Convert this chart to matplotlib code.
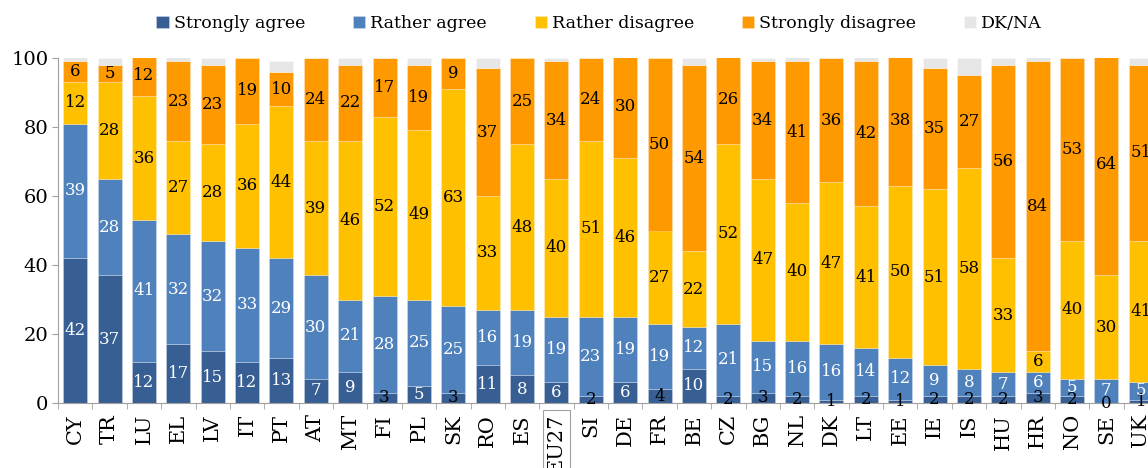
import matplotlib
matplotlib.use("Agg")
import matplotlib.pyplot as plt
import numpy as np

# data (percent)
countries = ["CY", "TR", "LU", "EL", "LV", "IT", "PT", "AT", "MT", "FI", "PL", "SK",
             "RO", "ES", "EU27", "SI", "DE", "FR", "BE", "CZ", "BG", "NL", "DK", "LT",
             "EE", "IE", "IS", "HU", "HR", "NO", "SE", "UK"]
strongly_agree = [42, 37, 12, 17, 15, 12, 13, 7, 9, 3, 5, 3,
                  11, 8, 6, 2, 6, 4, 10, 2, 3, 2, 1, 2,
                  1, 2, 2, 2, 3, 2, 0, 1]
rather_agree = [39, 28, 41, 32, 32, 33, 29, 30, 21, 28, 25, 25,
                16, 19, 19, 23, 19, 19, 12, 21, 15, 16, 16, 14,
                12, 9, 8, 7, 6, 5, 7, 5]
rather_disagree = [12, 28, 36, 27, 28, 36, 44, 39, 46, 52, 49, 63,
                   33, 48, 40, 51, 46, 27, 22, 52, 47, 40, 47, 41,
                   50, 51, 58, 33, 6, 40, 30, 41]
strongly_disagree = [6, 5, 12, 23, 23, 19, 10, 24, 22, 17, 19, 9,
                     37, 25, 34, 24, 30, 50, 54, 26, 34, 41, 36, 42,
                     38, 35, 27, 56, 84, 53, 64, 51]
dk_na = [2, 2, 0, 2, 2, 0, 3, 1, 2, 1, 2, 0,
         3, 0, 1, 1, 0, 0, 2, 0, 1, 2, 1, 2,
         0, 3, 5, 2, 2, 1, 0, 2]

series = [
    ("Strongly agree", strongly_agree, "#375F93", "white"),
    ("Rather agree", rather_agree, "#4F81BD", "white"),
    ("Rather disagree", rather_disagree, "#FFC000", "black"),
    ("Strongly disagree", strongly_disagree, "#FF9900", "black"),
    ("DK/NA", dk_na, "#E6E6E6", None),
]

plt.rcParams["font.family"] = ["DejaVu Serif"]

fig = plt.figure(figsize=(11.48, 4.68), dpi=100)
ax = fig.add_axes([58 / 1148, 65 / 468, 1100 / 1148, 345 / 468])

x = np.arange(len(countries))
bottom = np.zeros(len(countries))
for name, vals, color, txtcol in series:
    vals = np.array(vals, dtype=float)
    ax.bar(x, vals, bottom=bottom, width=0.7, color=color, label=name,
           edgecolor=(1, 1, 1, 0.35), linewidth=0.5)
    if txtcol is not None:
        for xi, b, v in zip(x, bottom, vals):
            c = txtcol
            # tiny segments: label spills over the axis, drawn dark
            if name == "Strongly agree" and v < 5:
                c = "black"
            ax.text(xi, b + v / 2, f"{int(v)}", ha="center", va="center",
                    fontsize=12, color=c, clip_on=False)
    bottom += vals

ax.set_xlim(-0.5, len(countries) - 0.5)
ax.set_ylim(0, 100)
ax.set_yticks([0, 20, 40, 60, 80, 100])
ax.tick_params(axis="y", labelsize=14, length=4, color="#A0A0A0", pad=3)

ax.set_xticks(x)
ax.set_xticklabels(countries, rotation=90, fontsize=15)
ax.set_xticks(np.arange(len(countries) + 1) - 0.5, minor=True)
ax.tick_params(axis="x", which="major", length=0, pad=8)
ax.tick_params(axis="x", which="minor", length=4, color="#A0A0A0")
for lbl in ax.get_xticklabels():
    if lbl.get_text() == "EU27":
        lbl.set_bbox(dict(facecolor="white", edgecolor="#A0A0A0", linewidth=0.8, pad=3))

for s in ["top", "right"]:
    ax.spines[s].set_visible(False)
for s in ["left", "bottom"]:
    ax.spines[s].set_color("#A0A0A0")

fig.legend(loc="center", bbox_to_anchor=(0.522, 0.949), ncol=5, frameon=False,
           fontsize=12.5, handlelength=0.7, handleheight=0.7, handletextpad=0.3,
           columnspacing=2.75)

fig.savefig("out.png", dpi=100)
